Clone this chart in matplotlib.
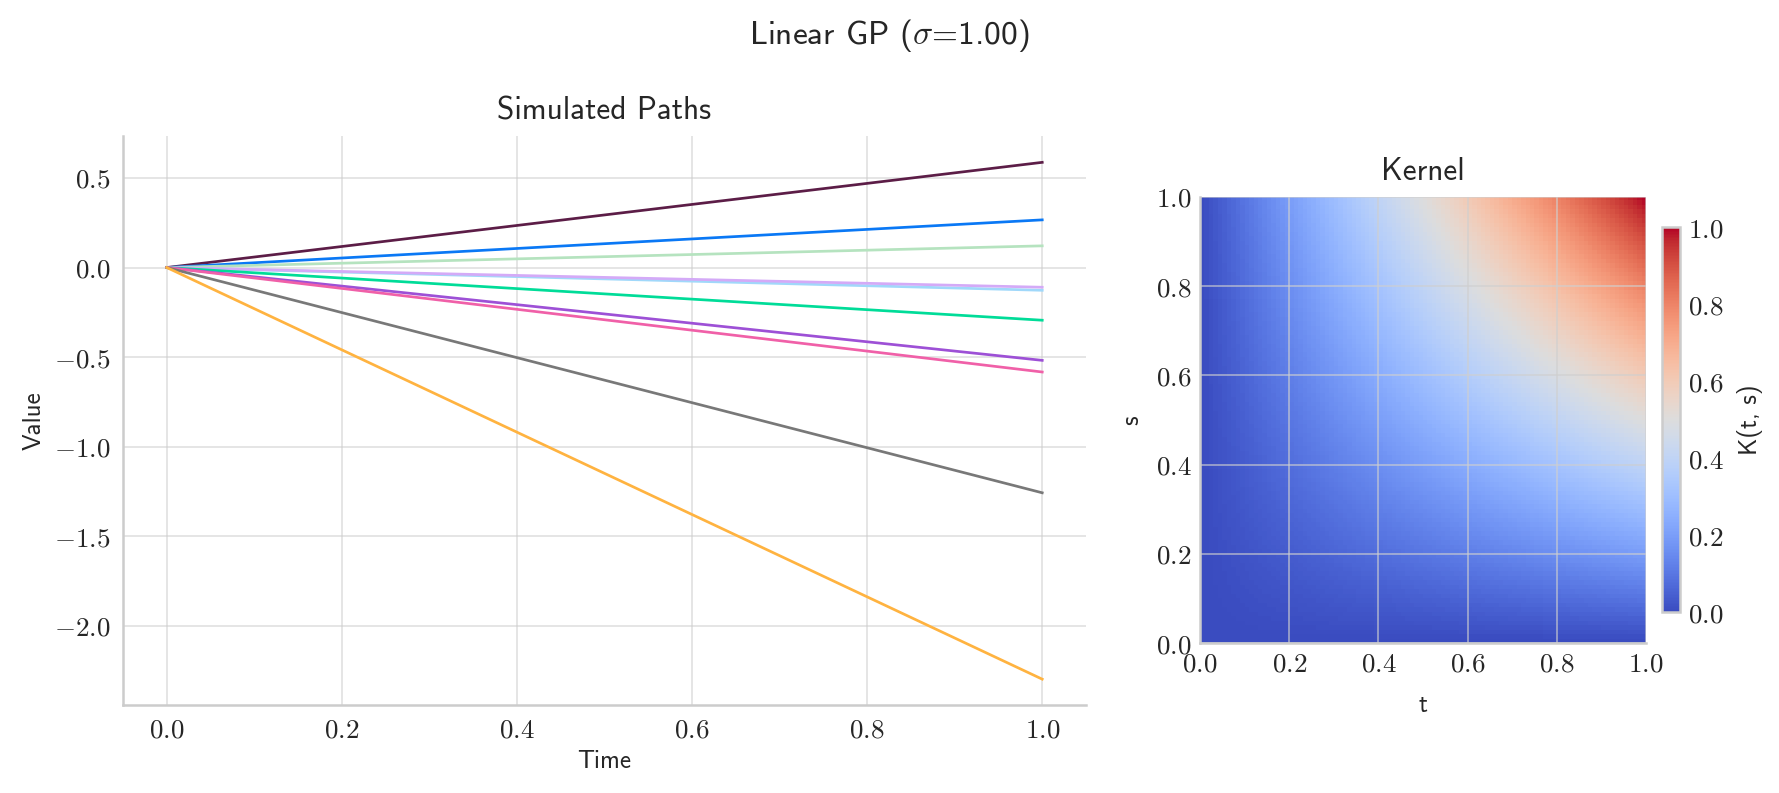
import numpy as np
import matplotlib
matplotlib.use('Agg')
import matplotlib.pyplot as plt
from matplotlib.ticker import FuncFormatter, MultipleLocator

plt.rcParams['mathtext.fontset'] = 'cm'
SANS = ['cmss10', 'DejaVu Sans']
TXT = '#262626'
EDGE = '#cccccc'

sigma = 1.00
path_times = [0.0, 1.0]
path_ends = [0.587, 0.266, 0.121, -0.127, -0.110, -0.294, -0.518, -0.583, -1.257, -2.297]
path_colors = ['#5c1d47', '#0a78f5', '#b5e3bf', '#a0d8fa', '#d4aaf7',
               '#00dc98', '#9d50d6', '#f060a8', '#787878', '#ffb340']

kernel_t = np.linspace(0, 1, 100)
kernel_vals = sigma ** 2 * np.outer(kernel_t, kernel_t)

W, H = 1779, 793
fig = plt.figure(figsize=(W / 150, H / 150), dpi=150)


def frac(x0, x1, ytop, ybot):
    return [x0 / W, 1 - ybot / H, (x1 - x0) / W, (ybot - ytop) / H]


def tick_fmt(v, pos):
    return '$%.1f$' % v


def style(ax, grid_alpha=1.0):
    for side in ['top', 'right']:
        ax.spines[side].set_visible(False)
    for side in ['left', 'bottom']:
        ax.spines[side].set_color(EDGE)
        ax.spines[side].set_linewidth(1.2)
    ax.tick_params(length=0, labelsize=13, colors=TXT, pad=6)
    ax.grid(True, color=EDGE, alpha=grid_alpha, linewidth=0.8)
    ax.set_axisbelow(True)
    ax.xaxis.set_major_formatter(FuncFormatter(tick_fmt))
    ax.yaxis.set_major_formatter(FuncFormatter(tick_fmt))


# paths
ax = fig.add_axes(frac(123, 1086, 136.5, 705))
for end, c in zip(path_ends, path_colors):
    ax.plot(path_times, [0.0, end], color=c, linewidth=1.3)
style(ax, grid_alpha=0.6)
ax.xaxis.set_major_locator(MultipleLocator(0.2))
ax.yaxis.set_major_locator(MultipleLocator(0.5))
ax.set_title('Simulated Paths', family=SANS, fontsize=15, color=TXT, pad=8)
ax.set_xlabel('Time', family=SANS, fontsize=12, color=TXT, labelpad=3)
ax.set_ylabel('Value', family=SANS, fontsize=12, color=TXT, labelpad=4)

# kernel
ax2 = fig.add_axes(frac(1200, 1646, 197, 643))
im = ax2.imshow(kernel_vals, origin='lower', extent=[0, 1, 0, 1], cmap='coolwarm',
                vmin=0, vmax=1, interpolation='nearest', aspect='auto')
style(ax2)
ax2.grid(True, color='#cfcfcf', alpha=0.7, linewidth=0.8)
ax2.xaxis.set_major_locator(MultipleLocator(0.2))
ax2.yaxis.set_major_locator(MultipleLocator(0.2))
ax2.tick_params(pad=4)
ax2.set_title('Kernel', family=SANS, fontsize=15, color=TXT, pad=8)
ax2.set_xlabel('t', family=SANS, fontsize=12, color=TXT, labelpad=8)
ax2.set_ylabel('s', family=SANS, fontsize=12, color=TXT, labelpad=6)

cax = fig.add_axes(frac(1662, 1680, 227.5, 612))
cb = fig.colorbar(im, cax=cax)
cb.outline.set_edgecolor(EDGE)
cb.outline.set_linewidth(1.2)
cb.set_ticks([0.0, 0.2, 0.4, 0.6, 0.8, 1.0])
cb.ax.yaxis.set_major_formatter(FuncFormatter(tick_fmt))
cb.ax.tick_params(length=0, labelsize=13, colors=TXT, pad=4)
cb.set_label('K(t, s)', family=SANS, fontsize=12, color=TXT, labelpad=6)

fig.text(0.5, 1 - 36 / H, 'Linear GP ($\\sigma$=1.00)', family=SANS, fontsize=16,
         color=TXT, ha='center', va='center')

fig.savefig('out.png', dpi=150)
